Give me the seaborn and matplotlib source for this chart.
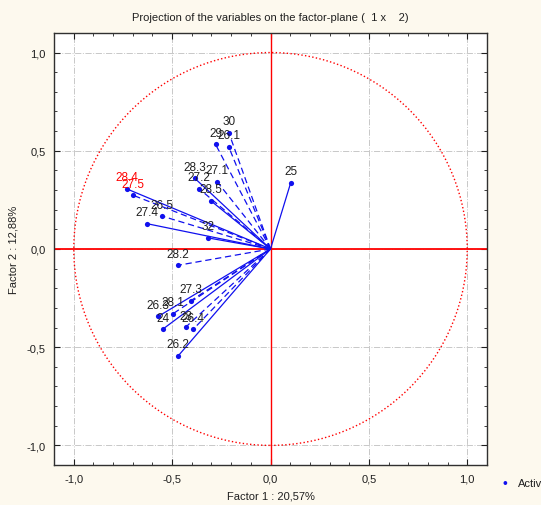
import numpy as np
import pandas as pd
import matplotlib
matplotlib.use('Agg')
import matplotlib.pyplot as plt
from matplotlib.patches import Circle
from matplotlib.ticker import FuncFormatter, MultipleLocator
import seaborn as sns

# variable coordinates on factor 1 / factor 2
labels = ['30', '29', '26.1', '28.3', '27.1', '27.2', '28.5', '28.4', '27.5',
          '26.5', '27.4', '32', '25', '28.2', '27.3', '26.3', '28.1', '24',
          '23', '26.4', '26.2']
f1 = [-0.212, -0.279, -0.212, -0.384, -0.271, -0.362, -0.303, -0.731, -0.700,
      -0.550, -0.629, -0.316, 0.103, -0.469, -0.406, -0.570, -0.496, -0.547,
      -0.431, -0.392, -0.469]
f2 = [0.592, 0.532, 0.519, 0.359, 0.342, 0.306, 0.245, 0.306, 0.274,
      0.167, 0.129, 0.056, 0.338, -0.083, -0.264, -0.343, -0.330, -0.408,
      -0.398, -0.408, -0.544]
dashed = ['30', '29', '26.1', '27.1', '27.2', '27.5', '26.5', '28.2', '27.3',
          '28.1', '23', '26.4']
red_labels = ['28.4', '27.5']

df = pd.DataFrame({'label': labels, 'f1': f1, 'f2': f2})

sns.set_style('ticks')
plt.rcParams['font.family'] = ['Liberation Sans', 'DejaVu Sans']

fig = plt.figure(figsize=(5.41, 5.06), dpi=100, facecolor='#fdf9ee')
ax = fig.add_axes([0.1, 0.079, 0.8, 0.854])
ax.set_facecolor('white')

blue = '#1010ee'
for _, r in df.iterrows():
    ls = (0, (5, 3)) if r['label'] in dashed else '-'
    ax.plot([0, r['f1']], [0, r['f2']], color=blue, lw=0.9, ls=ls, zorder=3)
sns.scatterplot(data=df, x='f1', y='f2', color=blue, s=14, edgecolor=blue,
                linewidth=0, ax=ax, zorder=4, legend=False)
for _, r in df.iterrows():
    c = 'red' if r['label'] in red_labels else '#202020'
    ax.annotate(r['label'], (r['f1'], r['f2']), xytext=(0, 4),
                textcoords='offset points', ha='center', va='bottom',
                fontsize=8.5, color=c, zorder=5)

ax.add_patch(Circle((0, 0), 1.0, fill=False, color='red', ls=':', lw=1.0, zorder=2))
ax.axhline(0, color='red', lw=1.3, zorder=2)
ax.axvline(0, color='red', lw=1.0, zorder=2)

ax.set_xlim(-1.1, 1.1)
ax.set_ylim(-1.1, 1.1)
ax.xaxis.set_major_locator(MultipleLocator(0.5))
ax.yaxis.set_major_locator(MultipleLocator(0.5))
ax.xaxis.set_minor_locator(MultipleLocator(0.1))
ax.yaxis.set_minor_locator(MultipleLocator(0.1))
fmt = FuncFormatter(lambda v, p: ('%.1f' % v).replace('.', ',').replace('-0,0', '0,0'))
ax.xaxis.set_major_formatter(fmt)
ax.yaxis.set_major_formatter(fmt)
ax.tick_params(which='both', direction='in', top=True, right=True,
               labelsize=8, colors='#202020', pad=6)
ax.tick_params(which='major', length=4)
ax.tick_params(which='minor', length=2)
ax.grid(True, which='major', color='#c8c8c8', ls='-.', lw=0.7, zorder=0)
for s in ax.spines.values():
    s.set_color('#303030')
    s.set_linewidth(1.0)

ax.set_xlabel('Factor 1 : 20,57%', fontsize=8, color='#202020', labelpad=5)
ax.set_ylabel('Factor 2 : 12,88%', fontsize=8, color='#202020', labelpad=6)
ax.set_title('Projection of the variables on the factor-plane (  1 x    2)',
             fontsize=8, color='#202020', pad=9)

fig.text(0.934, 0.044, '\u2022', color=blue, fontsize=10, ha='center', va='center')
fig.text(0.958, 0.044, 'Active', color='#202020', fontsize=8, ha='left', va='center')

fig.savefig('out.png', dpi=100, facecolor=fig.get_facecolor())
